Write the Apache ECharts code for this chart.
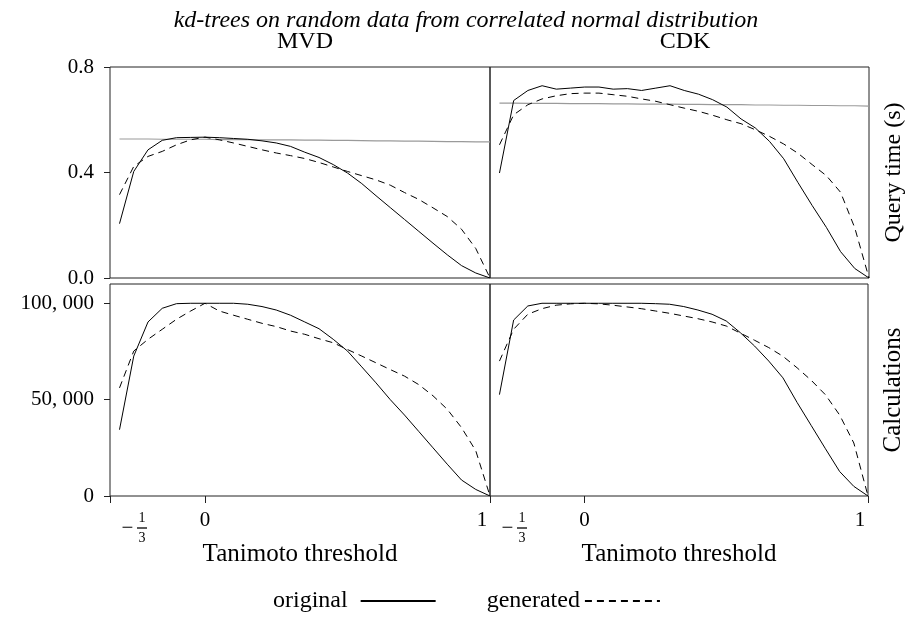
<!DOCTYPE html>
<html><head><meta charset="utf-8">
<script src="https://cdn.jsdelivr.net/npm/echarts@6/dist/echarts.min.js"></script>
<style>html,body{margin:0;padding:0;background:#fff}#c{width:907px;height:621px}</style>
</head><body><div id="c"></div>
<script>
const thresholds = [-0.3,-0.25,-0.2,-0.15,-0.1,-0.05,0,0.05,0.1,0.15,0.2,0.25,0.3,0.35,0.4,0.45,0.5,0.55,0.6,0.65,0.7,0.75,0.8,0.85,0.9,0.95,1.0];

const mvdTimeOriginal  = [0.206,0.404,0.486,0.522,0.532,0.533,0.534,0.532,0.529,0.526,0.520,0.512,0.499,0.477,0.457,0.430,0.398,0.358,0.312,0.267,0.222,0.177,0.132,0.088,0.047,0.019,0.0];
const mvdTimeGenerated = [0.316,0.423,0.461,0.480,0.505,0.524,0.534,0.524,0.512,0.499,0.486,0.474,0.464,0.453,0.438,0.421,0.404,0.388,0.372,0.352,0.324,0.298,0.266,0.233,0.185,0.112,0.0];
const mvdTimeBaseline  = [0.527,0.527,0.527,0.526,0.526,0.526,0.526,0.525,0.525,0.525,0.524,0.524,0.524,0.523,0.523,0.522,0.522,0.521,0.520,0.520,0.519,0.519,0.518,0.517,0.517,0.516,0.516];

const cdkTimeOriginal  = [0.398,0.673,0.711,0.729,0.716,0.720,0.724,0.724,0.716,0.718,0.711,0.720,0.729,0.711,0.697,0.676,0.648,0.603,0.569,0.518,0.452,0.362,0.275,0.192,0.100,0.036,0.0];
const cdkTimeGenerated = [0.505,0.619,0.657,0.679,0.691,0.699,0.701,0.701,0.695,0.689,0.679,0.670,0.657,0.644,0.632,0.617,0.600,0.585,0.562,0.537,0.508,0.473,0.430,0.388,0.325,0.190,0.0];
const cdkTimeBaseline  = [0.663,0.663,0.662,0.662,0.662,0.661,0.661,0.661,0.660,0.660,0.659,0.659,0.659,0.658,0.658,0.657,0.657,0.657,0.656,0.656,0.655,0.655,0.654,0.654,0.653,0.653,0.652];

const mvdCalcOriginal  = [34400,72600,90300,97400,99800,100000,100000,100000,100000,99500,98300,96500,93800,90300,86800,81300,75200,67000,58700,50000,42000,33500,25000,16500,8300,3400,0];
const mvdCalcGenerated = [56100,75200,81300,86500,91700,96000,100000,96000,93800,91700,89600,87900,85600,83900,81600,79500,76000,72600,69100,65600,62200,57800,52000,45000,35500,23500,0];
const cdkCalcOriginal  = [52600,91300,98600,100000,100000,100000,100000,100000,100000,100000,100000,99800,99500,98300,96500,94300,90800,84700,77800,70000,61300,48500,36500,24500,12700,5000,0];
const cdkCalcGenerated = [70000,86500,94300,97200,99000,99700,100000,99700,99000,98100,97200,96000,94800,93400,92000,90300,88200,84500,80800,77000,72500,66500,60000,52500,42000,27500,0];

const xTicks = [-1/3, 0, 1];
const timeTicks = [0, 0.4, 0.8];
const calcTicks = [0, 50000, 100000];
const panelTitles = ['MVD', 'CDK'];
const rowNames = ['Query time (s)', 'Calculations'];
const xName = 'Tanimoto threshold';
const seriesNames = ['original', 'generated'];
const chartTitle = 'kd-trees on random data from correlated normal distribution';

const FONT = 'Liberation Serif';
const FS = 21;      // tick labels
const FT = 24;      // titles and axis names
const pairs = ys => thresholds.map((x, i) => [x, ys[i]]);

const grids = [
  {left: 110, top: 67, width: 380, height: 211},
  {left: 490, top: 67, width: 381, height: 211},
  {left: 110, top: 284, width: 380, height: 212},
  {left: 490, top: 284, width: 381, height: 212}
].map(g => Object.assign(g, {show: true, borderColor: '#222', borderWidth: 1, backgroundColor: 'transparent', containLabel: false}));

function xAxisFor(gi, bottom) {
  return {
    type: 'value', gridIndex: gi, min: -1/3, max: 1,
    splitLine: {show: false},
    axisLine: {show: false, onZero: false},
    axisTick: bottom ? {show: true, inside: false, length: 7, customValues: xTicks, lineStyle: {color: '#222'}} : {show: false},
    axisLabel: bottom ? {
      show: true, customValues: xTicks, margin: 14, color: '#000', fontFamily: FONT, fontSize: FS,
      formatter: function (v) {
        if (Math.abs(v + 1/3) < 1e-6) return '{p|}{s|}{n|1}\n{p2|}{mm|−}{bar|}\n{p|}{s|}{n|3}';
        if (Math.abs(v - 1) < 1e-6) return '{o|1}{q|}';
        return '0';
      },
      rich: {
        p: {width: 45, lineHeight: 16},
        s: {width: 19, lineHeight: 16},
        p2: {width: 45, lineHeight: 4},
        mm: {width: 19, fontFamily: FONT, fontSize: FS, color: '#000', lineHeight: 4},
        n: {width: 10, align: 'center', fontFamily: FONT, fontSize: 14, color: '#000', lineHeight: 16},
        bar: {width: 10, height: 1.3, backgroundColor: '#000', lineHeight: 4},
        o: {fontFamily: FONT, fontSize: FS, color: '#000'},
        q: {width: 16}
      }
    } : {show: false},
    name: bottom ? xName : '',
    nameLocation: 'middle', nameGap: 46, nameMoveOverlap: false,
    nameTextStyle: {fontFamily: FONT, fontSize: 25, color: '#000'}
  };
}

function yAxisFor(gi, isTime, isLeft, rowName) {
  const ticks = isTime ? timeTicks : calcTicks;
  return {
    type: 'value', gridIndex: gi, min: 0, max: isTime ? 0.8 : 110000,
    position: isLeft ? 'left' : 'right',
    splitLine: {show: false},
    axisLine: {show: false, onZero: false},
    axisTick: isLeft ? {show: true, inside: false, length: 6, customValues: ticks, lineStyle: {color: '#222'}} : {show: false},
    axisLabel: isLeft ? {
      show: true, customValues: ticks, margin: 16, color: '#000', fontFamily: FONT, fontSize: FS,
      formatter: function (v) {
        if (isTime) return v.toFixed(1);
        if (v === 0) return '0';
        const s = String(Math.round(v));
        return s.slice(0, s.length - 3) + ', ' + s.slice(s.length - 3);
      }
    } : {show: false},
    name: isLeft ? '' : rowName,
    nameLocation: 'middle', nameGap: 13, nameRotate: 90, nameMoveOverlap: false,
    nameTextStyle: {fontFamily: FONT, fontSize: isTime ? FT : 25, color: '#000'}
  };
}

const solid = {color: '#000', width: 1, type: 'solid'};
const dashed = {color: '#000', width: 1, type: [7, 5]};
const grey = {color: '#9a9a9a', width: 1.2, type: 'solid'};

function line(name, gi, ys, style) {
  return {
    name: name, type: 'line', xAxisIndex: gi, yAxisIndex: gi,
    data: pairs(ys), symbol: 'none', showSymbol: false, smooth: false,
    lineStyle: style, itemStyle: {color: style.color}, emphasis: {disabled: true},
    animation: false, clip: true
  };
}

const option = {
  backgroundColor: '#fff',
  animation: false,
  title: [
    {text: chartTitle, left: 461, top: 4, textAlign: 'center',
     textStyle: {fontFamily: FONT, fontSize: FT, fontStyle: 'italic', fontWeight: 'normal', color: '#000'}},
    {text: panelTitles[0], left: 300, top: 25, textAlign: 'center',
     textStyle: {fontFamily: FONT, fontSize: FT, fontWeight: 'normal', color: '#000'}},
    {text: panelTitles[1], left: 680, top: 25, textAlign: 'center',
     textStyle: {fontFamily: FONT, fontSize: FT, fontWeight: 'normal', color: '#000'}}
  ],
  legend: {
    data: seriesNames, left: 268, top: 584, align: 'right',
    itemWidth: 75, itemHeight: 14, itemGap: 50,
    itemStyle: {opacity: 0, color: 'rgba(0,0,0,0)', borderWidth: 0},
    formatter: function (name) { return name === 'original' ? '{a|' + name + '}' : '{b|' + name + '}'; },
    textStyle: {fontFamily: FONT, fontSize: FT, color: '#000',
      rich: {a: {fontFamily: FONT, fontSize: FT, color: '#000', padding: [0, 8, 0, 0]},
             b: {fontFamily: FONT, fontSize: FT, color: '#000'}}},
    selectedMode: false
  },
  grid: grids,
  xAxis: [xAxisFor(0, false), xAxisFor(1, false), xAxisFor(2, true), xAxisFor(3, true)],
  yAxis: [yAxisFor(0, true, true), yAxisFor(1, true, false, rowNames[0]), yAxisFor(2, false, true), yAxisFor(3, false, false, rowNames[1])],
  series: [
    line('baseline', 0, mvdTimeBaseline, grey),
    line('baseline', 1, cdkTimeBaseline, grey),
    line(seriesNames[0], 0, mvdTimeOriginal, solid),
    line(seriesNames[1], 0, mvdTimeGenerated, dashed),
    line(seriesNames[0], 1, cdkTimeOriginal, solid),
    line(seriesNames[1], 1, cdkTimeGenerated, dashed),
    line(seriesNames[0], 2, mvdCalcOriginal, solid),
    line(seriesNames[1], 2, mvdCalcGenerated, dashed),
    line(seriesNames[0], 3, cdkCalcOriginal, solid),
    line(seriesNames[1], 3, cdkCalcGenerated, dashed)
  ]
};

const chart = echarts.init(document.getElementById('c'), null, {renderer: 'canvas'});
chart.setOption(option);
</script>
</body></html>
